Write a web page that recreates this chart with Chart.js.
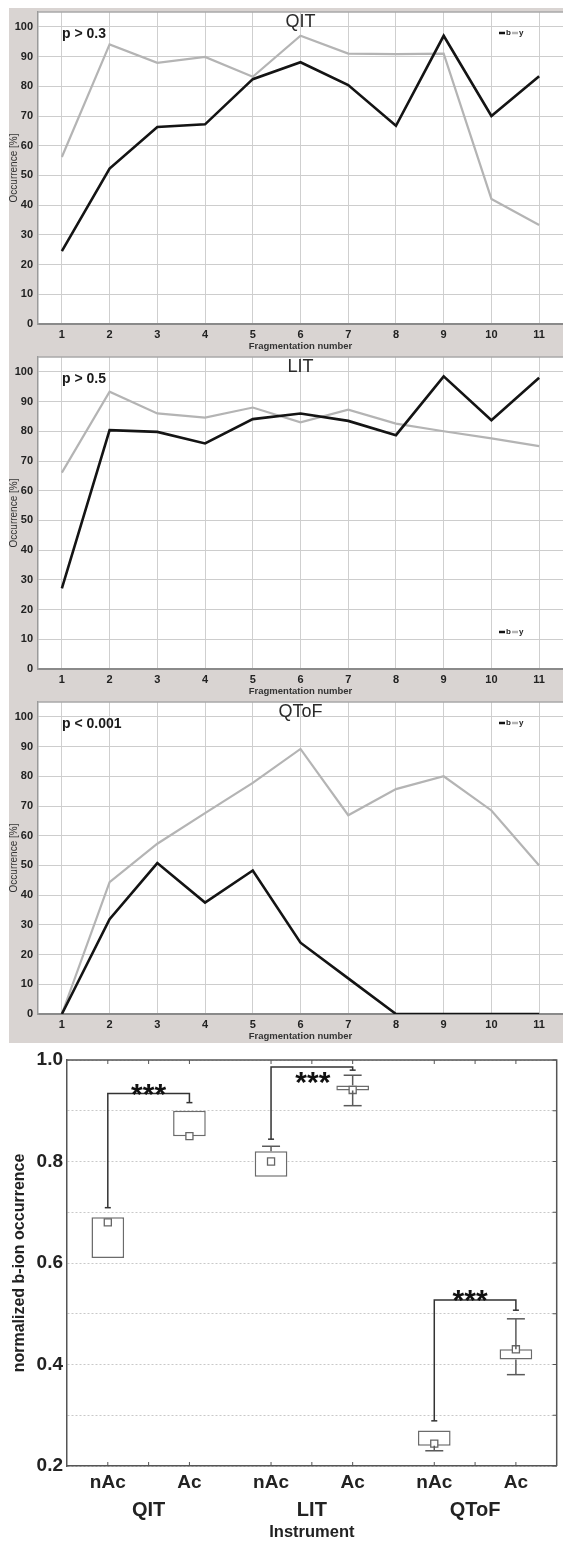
<!DOCTYPE html>
<html>
<head>
<meta charset="utf-8">
<script src="https://cdn.jsdelivr.net/npm/chart.js@4.4.0/dist/chart.umd.min.js"></script>
<style>
  body { margin: 0; background: #fff; width: 563px; height: 1544px; position: relative; overflow: hidden; }
  #panels { position: absolute; left: 9px; top: 8px; width: 554px; height: 1035px; background: #d9d4d2; }
  #panels canvas { display: block; }
  #box { position: absolute; left: 0; top: 1043px; display: block; }
</style>
</head>
<body>
<div id="panels">
  <canvas id="qit" width="554" height="345"></canvas>
  <canvas id="lit" width="554" height="345"></canvas>
  <canvas id="qtof" width="554" height="345"></canvas>
</div>
<canvas id="box" width="563" height="501"></canvas>
<script>
// ---- data ----
const fragNumbers = ['1', '2', '3', '4', '5', '6', '7', '8', '9', '10', '11'];
const occurrenceTicks = [0, 10, 20, 30, 40, 50, 60, 70, 80, 90, 100];

const qitB = [24.5, 52.3, 66.3, 67.2, 82.4, 88.1, 80.4, 66.7, 97.0, 70.0, 83.4];
const qitY = [56.2, 94.1, 87.9, 89.9, 83.2, 97.0, 91.0, 90.8, 91.0, 42.1, 33.3];

const litB = [27.1, 80.4, 79.8, 75.9, 84.1, 86.0, 83.5, 78.7, 98.5, 83.7, 98.0];
const litY = [66.1, 93.3, 86.0, 84.6, 88.0, 83.0, 87.3, 82.6, 80.0, 77.6, 75.0];

const qtofB = [0, 31.9, 50.8, 37.5, 48.3, 24.0, 12.0, 0, 0, 0, 0];
const qtofY = [0, 44.4, 57.3, 67.6, 77.8, 89.2, 66.9, 75.7, 80.0, 68.5, 50.0];

// box plot (normalized b-ion occurrence)
const boxCats = ['nAc', 'Ac', 'nAc', 'Ac', 'nAc', 'Ac'];
const instruments = ['QIT', 'LIT', 'QToF'];
const normTicks = [0.2, 0.4, 0.6, 0.8, 1.0];
const boxLow = [0.61, 0.85, 0.77, 0.94, 0.24, 0.41];
const boxHigh = [0.69, 0.90, 0.82, 0.95, 0.27, 0.43];
const boxMean = [0.68, 0.85, 0.80, 0.941, 0.244, 0.43];
const whiskerLow = [null, null, null, 0.91, 0.23, 0.38];
const whiskerHigh = [null, null, 0.83, 0.97, null, 0.49];
// significance brackets, one per instrument
const bracketFrom = [0.709, 0.844, 0.289];
const bracketTop = [0.934, 0.986, 0.527];
const bracketTo = [0.916, 0.980, 0.507];
const significance = ['***', '***', '***'];

const FONT = "'Liberation Sans', Arial, sans-serif";
Chart.defaults.font.family = FONT;
Chart.defaults.color = '#222';

// ---- line panels ----
const panelDeco = {
    id: 'panelDeco',
    beforeDraw(chart) {
        const a = chart.chartArea, ctx = chart.ctx;
        ctx.save();
        ctx.fillStyle = '#fff';
        ctx.fillRect(a.left, a.top, a.right - a.left, a.bottom - a.top);
        ctx.restore();
    },
    afterDraw(chart, args, opts) {
        const a = chart.chartArea, ctx = chart.ctx;
        ctx.save();
        // top frame line
        ctx.strokeStyle = '#a8a8a8';
        ctx.lineWidth = 1.5;
        ctx.beginPath();
        ctx.moveTo(a.left, a.top);
        ctx.lineTo(a.right, a.top);
        ctx.stroke();

        // instrument title
        ctx.fillStyle = '#2a2a2a';
        ctx.font = '18px ' + FONT;
        ctx.textAlign = 'center';
        ctx.textBaseline = 'alphabetic';
        ctx.fillText(opts.title, (a.left + a.right) / 2, a.top + 15);

        // p value
        ctx.fillStyle = '#1a1a1a';
        ctx.font = 'bold 14px ' + FONT;
        ctx.textAlign = 'left';
        ctx.fillText(opts.pText, a.left + 24, a.top + 26);

        // small legend  -b -y
        const ly = opts.legendBottom ? a.bottom - 37 : a.top + 21;
        let lx = a.right - 64;
        ctx.font = 'bold 8px ' + FONT;
        ctx.textBaseline = 'middle';
        chart.data.datasets.forEach(ds => {
            ctx.strokeStyle = ds.borderColor;
            ctx.lineWidth = 2.5;
            ctx.beginPath();
            ctx.moveTo(lx, ly);
            ctx.lineTo(lx + 6, ly);
            ctx.stroke();
            ctx.fillStyle = '#222';
            ctx.fillText(ds.label, lx + 7, ly);
            lx += 13;
        });
        ctx.restore();
    }
};

function makePanel(id, title, pText, legendBottom, bVals, yVals) {
    return new Chart(document.getElementById(id), {
        type: 'line',
        data: {
            labels: fragNumbers,
            datasets: [
                { label: 'b', data: bVals, borderColor: '#141414', borderWidth: 2.6, pointRadius: 0, tension: 0, order: 1 },
                { label: 'y', data: yVals, borderColor: '#b4b4b4', borderWidth: 2.2, pointRadius: 0, tension: 0, order: 2 }
            ]
        },
        options: {
            responsive: false,
            animation: false,
            events: [],
            layout: { padding: { top: 4, right: 0, bottom: 0, left: 0 } },
            plugins: {
                legend: { display: false },
                tooltip: { enabled: false },
                panelDeco: { title: title, pText: pText, legendBottom: legendBottom }
            },
            scales: {
                x: {
                    type: 'category',
                    offset: true,
                    grid: { color: '#cfcfcf', lineWidth: 1, drawTicks: false },
                    border: { color: '#8a8a8a', width: 2 },
                    ticks: { color: '#222', font: { size: 11, weight: 'bold' }, padding: 4, maxRotation: 0, autoSkip: false },
                    title: {
                        display: true, text: 'Fragmentation number', color: '#333',
                        font: { size: 9.5, weight: 'bold' }, padding: { top: 0, bottom: 1 }
                    },
                    afterFit: s => { s.height = 29; }
                },
                y: {
                    min: 0,
                    max: 105,
                    ticks: {
                        stepSize: 5,
                        color: '#222',
                        font: { size: 11, weight: 'bold' },
                        padding: 5,
                        callback: v => occurrenceTicks.includes(v) ? String(v) : ''
                    },
                    grid: { color: '#cdcdcd', lineWidth: 1, drawTicks: false },
                    border: { color: '#9a9a9a', width: 1.5 },
                    title: {
                        display: true, text: 'Occurrence [%]', color: '#333',
                        font: { size: 10, lineHeight: 1.1 }, padding: { top: 0, bottom: 0 }
                    },
                    afterFit: s => { s.width = 29; s.paddingTop = 0; s.paddingBottom = 0; }
                }
            }
        },
        plugins: [panelDeco]
    });
}

makePanel('qit', 'QIT', 'p > 0.3', false, qitB, qitY);
makePanel('lit', 'LIT', 'p > 0.5', true, litB, litY);
makePanel('qtof', 'QToF', 'p < 0.001', false, qtofB, qtofY);

// ---- box plot ----
const boxDeco = {
    id: 'boxDeco',
    afterDatasetsDraw(chart, args, opts) {
        const { ctx, scales: { x, y } } = chart;
        const seg = (x1, y1, x2, y2) => { ctx.beginPath(); ctx.moveTo(x1, y1); ctx.lineTo(x2, y2); ctx.stroke(); };
        ctx.save();
        ctx.strokeStyle = '#5a5a5a';
        ctx.lineWidth = 1.5;
        // whiskers
        boxCats.forEach((c, i) => {
            const px = x.getPixelForValue(i);
            if (whiskerHigh[i] != null) {
                const yw = y.getPixelForValue(whiskerHigh[i]);
                seg(px, y.getPixelForValue(boxHigh[i]), px, yw);
                seg(px - 9, yw, px + 9, yw);
            }
            if (whiskerLow[i] != null) {
                const yw = y.getPixelForValue(whiskerLow[i]);
                seg(px, y.getPixelForValue(boxLow[i]), px, yw);
                seg(px - 9, yw, px + 9, yw);
            }
        });
        // brackets and stars
        instruments.forEach((g, k) => {
            const x0 = x.getPixelForValue(2 * k);
            const x1 = x.getPixelForValue(2 * k + 1);
            const yA = y.getPixelForValue(bracketFrom[k]);
            const yT = y.getPixelForValue(bracketTop[k]);
            const yB = y.getPixelForValue(bracketTo[k]);
            ctx.strokeStyle = '#333';
            ctx.beginPath();
            ctx.moveTo(x0, yA);
            ctx.lineTo(x0, yT);
            ctx.lineTo(x1, yT);
            ctx.lineTo(x1, yB);
            ctx.stroke();
            seg(x0 - 3, yA, x0 + 3, yA);
            seg(x1 - 3, yB, x1 + 3, yB);
            ctx.fillStyle = '#111';
            ctx.font = 'bold 30px ' + FONT;
            ctx.textAlign = 'center';
            ctx.textBaseline = 'alphabetic';
            ctx.fillText(significance[k], (x0 + x1) / 2 + opts.starDx[k], yT + opts.starDy[k]);
        });
        ctx.restore();
    },
    afterDraw(chart) {
        const { ctx, chartArea: a, scales: { x, x2, y } } = chart;
        ctx.save();
        ctx.strokeStyle = '#555';
        ctx.lineWidth = 1.5;
        ctx.beginPath();
        ctx.moveTo(a.left, a.top);
        ctx.lineTo(a.right, a.top);
        ctx.lineTo(a.right, a.bottom);
        ctx.stroke();
        // inner tick marks
        ctx.lineWidth = 1;
        const xs = boxCats.map((c, i) => x.getPixelForValue(i)).concat(instruments.map((g, k) => x2.getPixelForValue(k)));
        xs.forEach(px => {
            ctx.beginPath();
            ctx.moveTo(px, a.top); ctx.lineTo(px, a.top + 4);
            ctx.moveTo(px, a.bottom); ctx.lineTo(px, a.bottom - 4);
            ctx.stroke();
        });
        y.ticks.forEach(t => {
            const py = y.getPixelForValue(t.value);
            ctx.beginPath();
            ctx.moveTo(a.right, py); ctx.lineTo(a.right - 4, py);
            ctx.stroke();
        });
        ctx.restore();
    }
};

new Chart(document.getElementById('box'), {
    type: 'bar',
    data: {
        labels: boxCats,
        datasets: [
            {
                type: 'line', label: 'mean', data: boxMean, showLine: false,
                pointStyle: 'rect', pointRadius: 5, pointBackgroundColor: '#fff',
                pointBorderColor: '#666', pointBorderWidth: 1.3, order: 1
            },
            {
                type: 'bar', label: 'box', data: boxLow.map((v, i) => [v, boxHigh[i]]),
                backgroundColor: '#fff', borderColor: '#6b6b6b', borderWidth: 1.5,
                borderSkipped: false, barPercentage: 0.4, categoryPercentage: 1, order: 2
            }
        ]
    },
    options: {
        responsive: false,
        animation: false,
        events: [],
        layout: { padding: { top: 17, right: 6, bottom: 0, left: 0 } },
        plugins: {
            legend: { display: false },
            tooltip: { enabled: false },
            boxDeco: { starDx: [0, 1, -5], starDy: [11, 25, 10] }
        },
        scales: {
            x: {
                offset: true,
                grid: { display: false, drawTicks: false },
                border: { color: '#555', width: 1.5 },
                ticks: { color: '#222', font: { size: 19, weight: 'bold' }, padding: 5, maxRotation: 0 },
                afterFit: s => { s.height = 30; }
            },
            x2: {
                type: 'category',
                labels: instruments,
                position: 'bottom',
                offset: true,
                grid: { display: false, drawTicks: false },
                border: { display: false },
                ticks: { color: '#222', font: { size: 20, weight: 'bold' }, padding: 2, maxRotation: 0 },
                title: {
                    display: true, text: 'Instrument', color: '#222',
                    font: { size: 16.5, weight: 'bold' }, padding: { top: 0, bottom: 2 }
                },
                afterFit: s => { s.height = 48; }
            },
            y: {
                min: 0.2,
                max: 1.0,
                ticks: {
                    stepSize: 0.1,
                    color: '#222',
                    font: { size: 19, weight: 'bold' },
                    padding: 4,
                    callback: v => {
                        const r = Math.round(v * 10) / 10;
                        return normTicks.some(t => Math.abs(t - r) < 1e-9) ? r.toFixed(1) : '';
                    }
                },
                grid: { color: '#c9c9c9', lineWidth: 1, drawTicks: false },
                border: { color: '#555', width: 1.5, dash: [2, 2] },
                title: {
                    display: true, text: 'normalized b-ion occurrence', color: '#222',
                    font: { size: 16, weight: 'bold' }, padding: { top: 10, bottom: 0 }
                },
                afterFit: s => { s.width = 67; }
            }
        }
    },
    plugins: [boxDeco]
});
</script>
</body>
</html>
